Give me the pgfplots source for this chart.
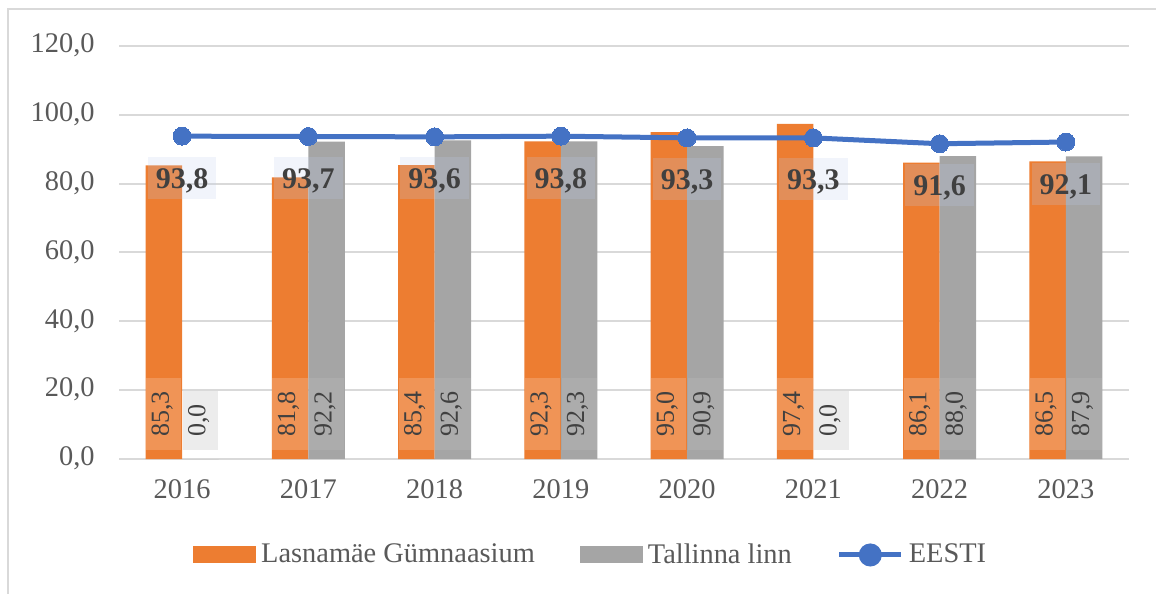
\documentclass[border=0pt]{standalone}
\usepackage{fontspec}
\setmainfont{Liberation Serif}
\usepackage{pgfplots}
\usepackage{pgfplotstable}
\pgfplotsset{compat=1.18}
\definecolor{cOrange}{HTML}{ED7D31}
\definecolor{cGray}{HTML}{A5A5A5}
\definecolor{cBlue}{HTML}{4472C4}
\definecolor{cGrid}{HTML}{D9D9D9}
\definecolor{cText}{HTML}{595959}
\definecolor{cLab}{HTML}{404040}
\definecolor{cBox}{RGB}{190,205,235}

\pgfplotstableread{
x xo xg year lg tl ee base
0 -0.145 0.145 2016 85.3 0.0 93.8 2.6
1 0.855 1.145 2017 81.8 92.2 93.7 2.6
2 1.855 2.145 2018 85.4 92.6 93.6 2.6
3 2.855 3.145 2019 92.3 92.3 93.8 2.6
4 3.855 4.145 2020 95.0 90.9 93.3 2.6
5 4.855 5.145 2021 97.4 0.0 93.3 2.6
6 5.855 6.145 2022 86.1 88.0 91.6 2.6
7 6.855 7.145 2023 86.5 87.9 92.1 2.6
}\data

\begin{document}
\begin{tikzpicture}
\useasboundingbox (0,0) rectangle (578pt,297pt);
\draw[cGrid, line width=0.75pt] (4pt,0pt) -- (4pt,292.5pt) -- (578pt,292.5pt);
\begin{axis}[
  at={(59.5pt,67.5pt)}, anchor=south west,
  scale only axis, width=505pt, height=206.5pt,
  xmin=-0.5, xmax=7.5, ymin=0, ymax=120,
  xtick={0,1,2,3,4,5,6,7},
  xticklabels={2016,2017,2018,2019,2020,2021,2022,2023},
  ytick={0,20,40,60,80,100,120},
  ymajorgrids, grid style={cGrid, line width=1pt},
  axis line style={draw=none}, tick style={draw=none},
  major tick length=0pt,
  /pgf/number format/.cd, fixed, fixed zerofill, precision=1, use comma, assume math mode=true,
  /pgfplots/.cd,
  ticklabel style={text=cText, font=\fontsize{14.2}{16}\selectfont},
  yticklabel style={anchor=east, text height=0.68em, text depth=0pt, inner xsep=0pt, xshift=-12pt},
  xticklabel style={anchor=north, text height=0.68em, text depth=0pt, inner ysep=0pt, yshift=-12.5pt},
  legend columns=3,
  legend cell align=left,
  legend style={at={(0.466,-0.2324)}, anchor=center, draw=none, fill=none,
    font=\fontsize{14.2}{16}\selectfont, text=cText,
    nodes={inner sep=0pt},
    /tikz/every odd column/.append style={column sep=2.5pt},
    /tikz/every even column/.append style={column sep=22.5pt}},
]
\addplot[ybar, bar width=0.29, bar shift=0pt, fill=cOrange, draw=none,
  legend image code/.code={\fill[cOrange] (0pt,-4.25pt) rectangle (31.5pt,4.25pt);}]
  table[x=xo,y=lg]{\data};
\addlegendentry{Lasnamäe Gümnaasium}
\addplot[ybar, bar width=0.29, bar shift=0pt, fill=cGray, draw=none,
  legend image code/.code={\fill[cGray] (0pt,-4.25pt) rectangle (31.5pt,4.25pt);}]
  table[x=xg,y=tl]{\data};
\addlegendentry{Tallinna linn}
\addplot[cBlue, line width=2.5pt, mark=*, mark size=4.5pt,
  mark options={fill=cBlue, draw=cBlue, line width=0pt},
  nodes near coords,
  nodes near coords style={anchor=center, yshift=-20.8pt,
    font=\bfseries\fontsize{15}{17}\selectfont, text=cLab,
    fill=cBox, fill opacity=0.22, text opacity=1,
    inner xsep=4pt, inner ysep=3.75pt, text height=12pt, text depth=1.5pt},
  legend image code/.code={\draw[cBlue, line width=2.5pt] (0pt,0pt) -- (31pt,0pt);
    \fill[cBlue] (15.5pt,0pt) circle (4.5pt);}]
  table[x=x,y=ee]{\data};
\addlegendentry{EESTI}
% bar value labels at the bar base
\addplot[draw=none, mark=none, forget plot,
  point meta=explicit, nodes near coords,
  nodes near coords style={rotate=90, anchor=west,
    font=\fontsize{13}{15}\selectfont, text=cLab,
    fill=white, fill opacity=0.18, text opacity=1,
    inner xsep=6.5pt, inner ysep=4.5pt, text height=0.68em, text depth=0.18em}]
  table[x=xo,y=base,meta=lg]{\data};
\addplot[draw=none, mark=none, forget plot,
  point meta=explicit, nodes near coords,
  nodes near coords style={rotate=90, anchor=west,
    font=\fontsize{13}{15}\selectfont, text=cLab,
    fill=black!25, fill opacity=0.3, text opacity=1,
    inner xsep=6.5pt, inner ysep=4.5pt, text height=0.68em, text depth=0.18em}]
  table[x=xg,y=base,meta=tl]{\data};
\end{axis}
\end{tikzpicture}
\end{document}
